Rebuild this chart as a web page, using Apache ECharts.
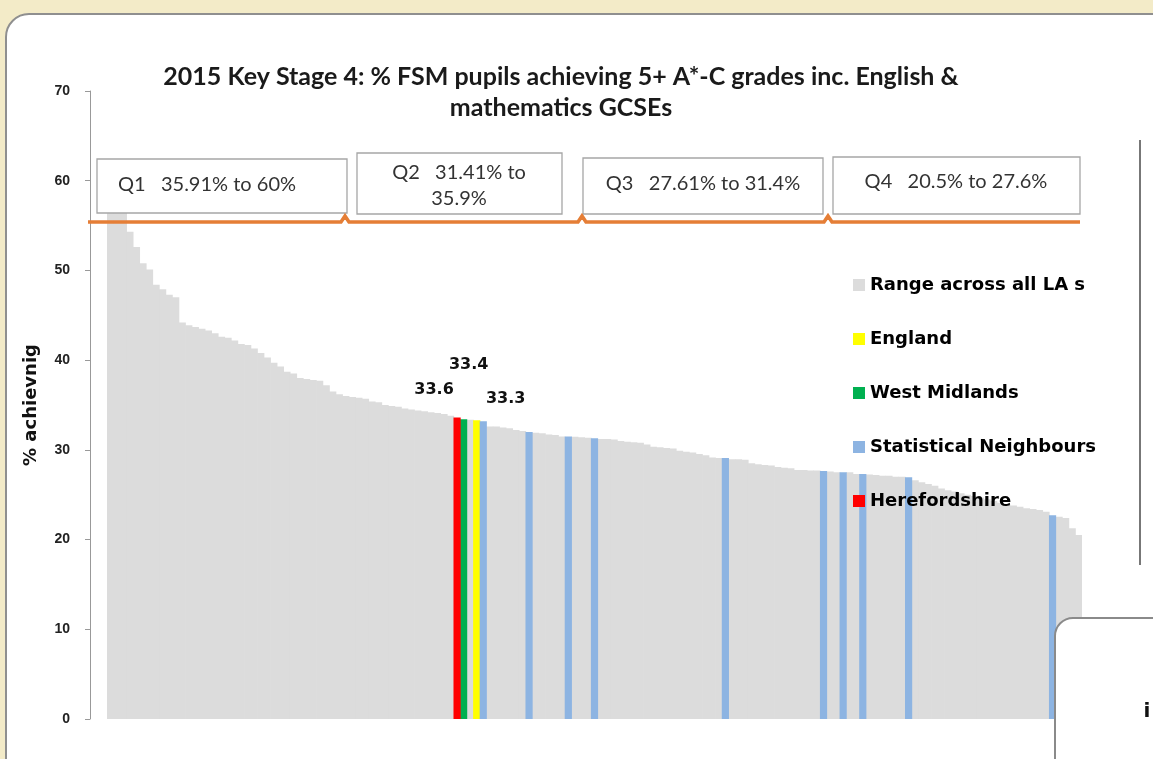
<!DOCTYPE html>
<html>
<head>
<meta charset="utf-8">
<title>KS4 FSM 5+ A*-C</title>
<script src="https://cdn.jsdelivr.net/npm/echarts@6/dist/echarts.min.js"></script>
<style>
  html, body { margin: 0; padding: 0; background: #f3ebc8; overflow: hidden; }
  .frame {
    position: absolute; left: 5px; top: 13px; width: 1200px; height: 800px;
    background: #fff; border: 2px solid #8f8f8f; border-radius: 24px;
  }
  #chart { position: absolute; left: 0; top: 0; width: 1153px; height: 759px; }
</style>
</head>
<body>
<div class="frame"></div>
<div id="chart"></div>
<script>
// % FSM pupils achieving 5+ A*-C inc. En & Ma, sorted high to low
var values = [
  60, 58.5, 57, 54.3, 52.6, 50.8, 50.1, 48.4, 47.9, 47.3,
  47.0, 44.2, 43.9, 43.7, 43.5, 43.3, 43.0, 42.6, 42.5, 42.2,
  41.8, 41.7, 41.3, 40.8, 40.3, 39.7, 39.3, 38.7, 38.5, 38.0,
  37.9, 37.8, 37.7, 37.2, 36.5, 36.2, 36.0, 35.9, 35.8, 35.7,
  35.4, 35.3, 35.0, 34.9, 34.8, 34.6, 34.5, 34.4, 34.3, 34.2,
  34.1, 34.0, 33.8, 33.6, 33.4, 33.35, 33.3, 33.2, 32.6, 32.6,
  32.5, 32.4, 32.2, 32.1, 32.0, 31.9, 31.85, 31.7, 31.65, 31.5,
  31.5, 31.45, 31.4, 31.35, 31.3, 31.2, 31.2, 31.15, 31.0, 30.9,
  30.85, 30.8, 30.6, 30.35, 30.3, 30.2, 30.15, 29.9, 29.8, 29.7,
  29.55, 29.4, 29.15, 29.1, 29.1, 28.95, 28.95, 28.9, 28.5, 28.4,
  28.3, 28.25, 28.1, 28.0, 27.95, 27.75, 27.75, 27.7, 27.7, 27.65,
  27.6, 27.5, 27.5, 27.5, 27.3, 27.3, 27.25, 27.2, 27.1, 27.1,
  27.0, 27.0, 26.95, 26.6, 26.4, 26.2, 26.0, 25.7, 25.5, 25.35,
  25.15, 25.0, 24.85, 24.7, 24.5, 24.3, 24.1, 23.95, 23.8, 23.65,
  23.5, 23.4, 23.3, 23.1, 22.7, 22.55, 22.4, 21.25, 20.5
]
var herefordIdx = [53]
var westMidIdx = [54]
var englandIdx = [56]
var neighbourIdx = [57, 64, 70, 74, 94, 109, 112, 115, 122, 144]
var yTicks = { min: 0, max: 70, interval: 10 }

var categories = values.map(function (v, i) { return 'LA ' + (i + 1) })

function pick(idx) {
  return values.map(function (v, i) { return idx.indexOf(i) >= 0 ? v : '-' })
}
var special = herefordIdx.concat(westMidIdx, englandIdx, neighbourIdx)
var rangeData = values.map(function (v, i) { return special.indexOf(i) >= 0 ? '-' : v })

var labelFont = { fontFamily: 'DejaVu Sans', fontWeight: 'bold', fontSize: 16, color: '#111' }
function valLabel(ox, oy) {
  return Object.assign({ show: true, position: 'top', offset: [ox, oy],
    formatter: function (p) { return p.value.toFixed(1) } }, labelFont)
}
// bars a touch wider than the slot so neighbours don't leave hairline seams
function barSeries(name, data, color, label) {
  var s = { name: name, type: 'bar', data: data, barGap: '-100%', barWidth: '110%',
    itemStyle: { color: color } }
  if (label) s.label = label
  return s
}

function boxText(x, y, txt) {
  return { type: 'text', z: 12, style: { x: x, y: y, text: txt, align: 'center', verticalAlign: 'middle',
    font: '20px Lato', fill: '#333', lineHeight: 26 } }
}
function box(x, y, w, h) {
  return { type: 'rect', z: 11, shape: { x: x, y: y, width: w, height: h },
    style: { fill: '#fff', stroke: '#a6a6a6', lineWidth: 1.3 } }
}

var chart = echarts.init(document.getElementById('chart'))
chart.setOption({
  animation: false,
  title: {
    text: '2015 Key Stage 4: % FSM pupils achieving 5+ A*-C grades inc. English &\nmathematics GCSEs',
    left: 556,
    top: 56,
    textAlign: 'center',
    textStyle: { fontFamily: 'Lato', fontWeight: 'bold', fontSize: 25, lineHeight: 31, color: '#1a1a1a' }
  },
  legend: {
    orient: 'vertical',
    left: 848,
    top: 271,
    itemWidth: 12,
    itemHeight: 12,
    itemGap: 36,
    icon: 'rect',
    textStyle: { fontFamily: 'DejaVu Sans', fontWeight: 'bold', fontSize: 18, color: '#000' },
    data: ['Range across all LA s', 'England', 'West Midlands', 'Statistical Neighbours', 'Herefordshire']
  },
  grid: { left: 107, right: 71, top: 91, bottom: 40 },
  xAxis: {
    type: 'category',
    data: categories,
    axisLine: { show: false },
    axisTick: { show: false },
    axisLabel: { show: false }
  },
  yAxis: {
    type: 'value',
    min: yTicks.min,
    max: yTicks.max,
    interval: yTicks.interval,
    offset: 17,
    name: '% achievnig',
    nameLocation: 'middle',
    nameGap: 50,
    nameTextStyle: { fontFamily: 'DejaVu Sans', fontWeight: 'bold', fontSize: 18, color: '#111' },
    axisLine: { show: true, lineStyle: { color: '#999', width: 1 } },
    axisTick: { show: true, length: 5, lineStyle: { color: '#999' } },
    axisLabel: { margin: 20, fontFamily: 'Liberation Sans', fontWeight: 'bold', fontSize: 14, color: '#222' },
    splitLine: { show: false }
  },
  series: [
    barSeries('Range across all LA s', rangeData, '#dcdcdc'),
    barSeries('England', pick(englandIdx), '#ffff00', valLabel(29, -8)),
    barSeries('West Midlands', pick(westMidIdx), '#00b050', valLabel(5, -42)),
    barSeries('Statistical Neighbours', pick(neighbourIdx), '#8db4e2'),
    barSeries('Herefordshire', pick(herefordIdx), '#ff0000', valLabel(-23, -15))
  ],
  graphic: [
    // quartile bands
    box(97, 159, 250, 54), boxText(207, 185, 'Q1   35.91% to 60%'),
    box(357, 153, 205, 61), boxText(459, 186, 'Q2   31.41% to\n35.9%'),
    box(583, 158, 240, 56), boxText(703, 184, 'Q3   27.61% to 31.4%'),
    box(833, 157, 247, 57), boxText(956, 182, 'Q4   20.5% to 27.6%'),
    { type: 'polyline', z: 13,
      shape: { points: [[88, 222], [341, 222], [345, 216], [349, 222], [578, 222], [582, 216], [586, 222],
        [824, 222], [828, 216], [832, 222], [1080, 222]] },
      style: { stroke: '#e57e36', lineWidth: 3.5, fill: null } },
    // bits of other slide shapes on the right
    { type: 'line', z: 13, shape: { x1: 1140, y1: 140, x2: 1140, y2: 565 }, style: { stroke: '#777', lineWidth: 2 } },
    { type: 'rect', z: 14, shape: { x: 1055, y: 618, width: 200, height: 200, r: 18 },
      style: { fill: '#fff', stroke: '#8a8a8a', lineWidth: 2 } },
    { type: 'text', z: 15, style: { x: 1147, y: 712, text: 'i', align: 'center', verticalAlign: 'middle',
      font: 'bold 20px "DejaVu Sans"', fill: '#111' } }
  ]
})
</script>
</body>
</html>
